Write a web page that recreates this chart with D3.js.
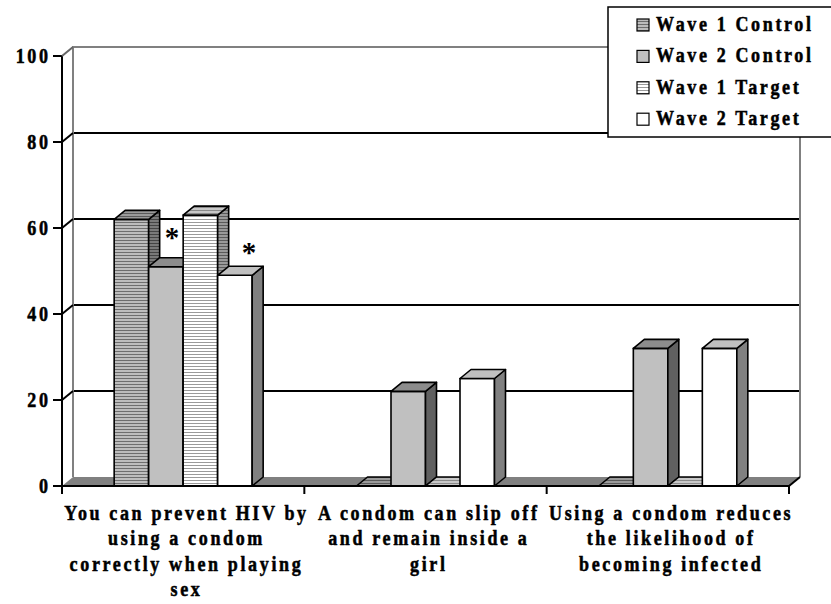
<!DOCTYPE html>
<html>
<head>
<meta charset="utf-8">
<script src="https://cdn.jsdelivr.net/npm/d3@7"></script>
<style>
  html, body { margin: 0; padding: 0; background: #fff; }
  svg { display: block; }
  text { font-family: "Liberation Serif", "Times New Roman", serif; font-weight: bold; fill: #000; }
</style>
</head>
<body>
<svg id="chart" width="831" height="604"></svg>
<script>
// ---- data ----
const categories = [
  ["You can prevent HIV by", "using a condom", "correctly when playing", "sex"],
  ["A condom can slip off", "and remain inside a", "girl"],
  ["Using a condom reduces", "the likelihood of", "becoming infected"]
];
const seriesNames = ["Wave 1 Control", "Wave 2 Control", "Wave 1 Target", "Wave 2 Target"];
const wave1Control = [62, 0, 0];
const wave2Control = [51, 22, 32];
const wave1Target  = [63, 0, 0];
const wave2Target  = [49, 25, 32];
const yTicks = [0, 20, 40, 60, 80, 100];
// significant change marks: [category index, series index]
const significant = [[0, 1], [0, 3]];

const seriesValues = [wave1Control, wave2Control, wave1Target, wave2Target];

// ---- layout ----
const svg = d3.select("#chart");
const plotL = 62, plotR = 789, plotB = 486, plotT = 56;
const dx = 11, dy = -9;   // depth of the 3-D box

const y = d3.scaleLinear().domain([0, 100]).range([plotB, plotT]);
const xCat = d3.scaleBand().domain(d3.range(categories.length)).range([plotL, plotR]);
const xSer = d3.scaleBand().domain(d3.range(seriesNames.length))
  .range([xCat.bandwidth() / 2 - 69, xCat.bandwidth() / 2 + 69]);

// condensed, tracked bold serif text
const FS = 22, SX = 0.82, LS = 3.2;
function label(g, x, yPos, str, anchor) {
  const shift = anchor === "end" ? LS * SX : anchor === "middle" ? LS * SX / 2 : 0;
  return g.append("text")
    .attr("transform", `translate(${x + shift},${yPos}) scale(${SX},1)`)
    .attr("text-anchor", anchor)
    .attr("font-size", FS)
    .attr("letter-spacing", LS + "px")
    .attr("stroke", "#000").attr("stroke-width", 0.55)
    .text(str);
}

// ---- fill styles: plain colours and horizontal line hatches ----
const defs = svg.append("defs");
function hatch(id, bg, fg) {
  const p = defs.append("pattern").attr("id", id)
    .attr("patternUnits", "userSpaceOnUse").attr("width", 4).attr("height", 3);
  p.append("rect").attr("width", 4).attr("height", 3).attr("fill", bg);
  p.append("rect").attr("width", 4).attr("height", 1).attr("fill", fg);
  return `url(#${id})`;
}
const faces = [
  { front: hatch("s1f", "#bdbdbd", "#6e6e6e"), side: hatch("s1s", "#7a7a7a", "#444"), top: hatch("s1t", "#9a9a9a", "#5a5a5a") },
  { front: "#c0c0c0", side: "#606060", top: "#8c8c8c" },
  { front: hatch("s3f", "#ffffff", "#9a9a9a"), side: hatch("s3s", "#9a9a9a", "#5a5a5a"), top: hatch("s3t", "#c8c8c8", "#8a8a8a") },
  { front: "#ffffff", side: "#808080", top: "#c0c0c0" }
];

// ---- floor and back wall ----
svg.append("polygon")
  .attr("points", [[plotL, plotB], [plotL + dx, plotB + dy], [plotR + dx, plotB + dy], [plotR, plotB]].join(" "))
  .attr("fill", "#808080");

const gx0 = plotL + dx, gx1 = plotR + dx;
svg.append("g").selectAll("line").data(yTicks.filter(t => t > 0 && t < 100)).join("line")
  .attr("x1", gx0).attr("x2", gx1)
  .attr("y1", d => y(d) + dy).attr("y2", d => y(d) + dy)
  .attr("stroke", "#000").attr("stroke-width", 2);

svg.append("path")
  .attr("d", `M${gx0},${plotB + dy} V${y(100) + dy} H${gx1} V${plotB + dy}`)
  .attr("fill", "none").attr("stroke", "#808080").attr("stroke-width", 2);

// right edge of floor
svg.append("line")
  .attr("x1", plotR).attr("y1", plotB).attr("x2", plotR + dx).attr("y2", plotB + dy)
  .attr("stroke", "#000").attr("stroke-width", 2);

// ---- bars ----
const barW = xSer.bandwidth();
const barsG = svg.append("g").attr("stroke", "#000").attr("stroke-width", 1.6).attr("stroke-linejoin", "round");
categories.forEach((c, ci) => {
  seriesValues.forEach((vals, si) => {
    const x0 = xCat(ci) + xSer(si), x1 = x0 + barW;
    const yt = y(vals[ci]), yb = y(0);
    const g = barsG.append("g");
    g.append("rect").attr("x", x0).attr("y", yt).attr("width", barW).attr("height", yb - yt)
      .attr("fill", faces[si].front);
    g.append("polygon")
      .attr("points", [[x1, yb], [x1 + dx, yb + dy], [x1 + dx, yt + dy], [x1, yt]].join(" "))
      .attr("fill", faces[si].side);
    g.append("polygon")
      .attr("points", [[x0, yt], [x0 + dx, yt + dy], [x1 + dx, yt + dy], [x1, yt]].join(" "))
      .attr("fill", faces[si].top);
  });
});

// significance asterisks above the flagged bars
const starNudge = [6, 14], starLift = [20, 13];
significant.forEach(([ci, si], k) => {
  const v = seriesValues[si][ci];
  svg.append("text")
    .attr("x", xCat(ci) + xSer(si) + barW / 2 + starNudge[k])
    .attr("y", y(v) - starLift[k])
    .attr("text-anchor", "middle")
    .attr("font-size", 29)
    .text("*");
});

// ---- axes ----
const axisG = svg.append("g").attr("stroke", "#000").attr("stroke-width", 2);
axisG.append("line").attr("x1", plotL).attr("x2", plotL).attr("y1", y(100)).attr("y2", plotB + 8);
axisG.append("line").attr("x1", plotL).attr("x2", plotR).attr("y1", plotB).attr("y2", plotB);
axisG.selectAll(".yt").data(yTicks).join("line")
  .attr("x1", plotL - 9).attr("x2", plotL).attr("y1", d => y(d)).attr("y2", d => y(d));
axisG.selectAll(".yd").data(yTicks.filter(t => t > 0)).join("line")
  .attr("x1", plotL).attr("y1", d => y(d)).attr("x2", plotL + dx).attr("y2", d => y(d) + dy)
  .attr("stroke", d => d === 100 ? "#666" : "#000");
axisG.selectAll(".xt").data(d3.range(categories.length + 1)).join("line")
  .attr("x1", d => plotL + d * xCat.bandwidth()).attr("x2", d => plotL + d * xCat.bandwidth())
  .attr("y1", plotB).attr("y2", plotB + 8);

const yLab = svg.append("g");
yTicks.forEach(t => label(yLab, 48, y(t) + 7, String(t), "end"));

const catG = svg.append("g");
categories.forEach((lines, ci) => {
  lines.forEach((ln, li) => {
    label(catG, xCat(ci) + xCat.bandwidth() / 2 + 2, 520 + li * 25.3, ln, "middle");
  });
});

// ---- legend ----
const lg = svg.append("g");
lg.append("rect").attr("x", 608).attr("y", 7).attr("width", 240).attr("height", 130)
  .attr("fill", "#fff").attr("stroke", "#000").attr("stroke-width", 1.5);
seriesNames.forEach((name, i) => {
  const by = 31 + i * 31.4;
  lg.append("rect").attr("x", 637).attr("y", by - 12).attr("width", 12).attr("height", 12)
    .attr("fill", faces[i].front).attr("stroke", "#000").attr("stroke-width", 1.2);
  label(lg, 656, by, name, "start");
});
</script>
</body>
</html>
